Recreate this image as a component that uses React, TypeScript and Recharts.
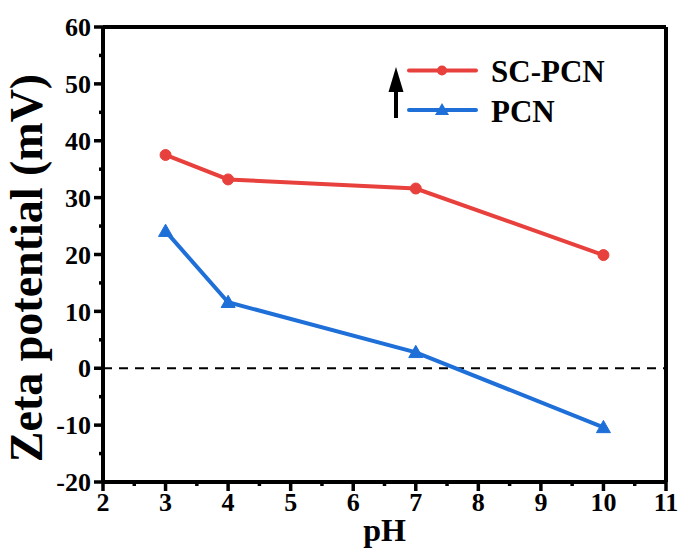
import React from "react";
import {
  LineChart,
  Line,
  XAxis,
  YAxis,
  ReferenceLine,
  Label,
} from "recharts";

const phValues = [3, 4, 7, 10];
const scPcnValues = [37.5, 33.2, 31.6, 19.9];
const pcnValues = [24.1, 11.6, 2.8, -10.4];
const xTicks = [2, 2.5, 3, 3.5, 4, 4.5, 5, 5.5, 6, 6.5, 7, 7.5, 8, 8.5, 9, 9.5, 10, 10.5, 11];
const yTicks = [-20, -15, -10, -5, 0, 5, 10, 15, 20, 25, 30, 35, 40, 45, 50, 55, 60];
const seriesNames = ["SC-PCN", "PCN"];

const data = phValues.map((ph, i) => ({
  ph,
  sc: scPcnValues[i],
  pcn: pcnValues[i],
}));

const RED = "#e8413d";
const BLUE = "#1f6fd8";
const FONT = "'Liberation Serif', 'Times New Roman', serif";

const Triangle = (props: any) => {
  const { cx, cy } = props;
  if (cx == null || cy == null) return null;
  const s = 7;
  return (
    <path
      d={`M${cx},${cy - s} L${cx + s},${cy + s * 0.75} L${cx - s},${cy + s * 0.75} Z`}
      fill={BLUE}
      stroke={BLUE}
    />
  );
};

const XTick = (props: any) => {
  const { x, y, payload } = props;
  const v = payload.value;
  const major = Number.isInteger(v);
  return (
    <g>
      <line x1={x} y1={y} x2={x} y2={y + (major ? 9 : 4)} stroke="#000" strokeWidth={3.5} />
      {major && (
        <text
          x={x}
          y={y + 11}
          dy="0.71em"
          textAnchor="middle"
          fontFamily={FONT}
          fontWeight="bold"
          fontSize={26}
          fill="#000"
        >
          {v}
        </text>
      )}
    </g>
  );
};

const YTick = (props: any) => {
  const { x, y, payload } = props;
  const v = payload.value;
  const major = v % 10 === 0;
  return (
    <g>
      <line x1={x} y1={y} x2={x - (major ? 9 : 4)} y2={y} stroke="#000" strokeWidth={3.5} />
      {major && (
        <text
          x={x - 12}
          y={y}
          dy="0.355em"
          textAnchor="end"
          fontFamily={FONT}
          fontWeight="bold"
          fontSize={26}
          fill="#000"
        >
          {v}
        </text>
      )}
    </g>
  );
};

const LegendOverlay = () => (
  <svg
    width={250}
    height={80}
    style={{ position: "absolute", left: 380, top: 50, overflow: "visible" }}
  >
    <line x1={16} y1={68} x2={16} y2={35} stroke="#000" strokeWidth={4} />
    <path d="M16,17 L23.5,42 L8.5,42 Z" fill="#000" />
    <line x1={29} y1={20.5} x2={96} y2={20.5} stroke={RED} strokeWidth={4} strokeLinecap="round" />
    <circle cx={62} cy={20.5} r={5} fill={RED} />
    <text x={111} y={32} fontFamily={FONT} fontWeight="bold" fontSize={31} fill="#000">
      {seriesNames[0]}
    </text>
    <line x1={29} y1={60} x2={96} y2={60} stroke={BLUE} strokeWidth={4} strokeLinecap="round" />
    <path d="M62,53 L69,65 L55,65 Z" fill={BLUE} />
    <text x={111} y={72} fontFamily={FONT} fontWeight="bold" fontSize={31} fill="#000">
      {seriesNames[1]}
    </text>
  </svg>
);

export default function App() {
  return (
    <div style={{ position: "absolute", left: 0, top: 0, width: 681, height: 549, background: "#fff" }}>
      <LineChart
        width={681}
        height={549}
        data={data}
        margin={{ top: 27, right: 15, bottom: 66, left: 102 }}
      >
        <XAxis
          dataKey="ph"
          type="number"
          domain={[2, 11]}
          ticks={xTicks}
          height={1}
          tickSize={0}
          tickMargin={0}
          axisLine={{ stroke: "#000", strokeWidth: 4 }}
          tickLine={false}
          tick={<XTick />}
          interval={0}
        >
          <Label
            content={() => (
              <text
                x={384.5}
                y={541}
                textAnchor="middle"
                fontFamily={FONT}
                fontWeight="bold"
                fontSize={32}
                fill="#000"
              >
                pH
              </text>
            )}
          />
        </XAxis>
        <YAxis
          type="number"
          domain={[-20, 60]}
          ticks={yTicks}
          width={1}
          tickSize={0}
          tickMargin={0}
          axisLine={{ stroke: "#000", strokeWidth: 4 }}
          tickLine={false}
          tick={<YTick />}
          interval={0}
        >
          <Label
            content={() => (
              <text
                x={42}
                y={268}
                transform="rotate(-90 42 268)"
                textAnchor="middle"
                fontFamily={FONT}
                fontWeight="bold"
                fontSize={46}
                fill="#000"
              >
                Zeta potential (mV)
              </text>
            )}
          />
        </YAxis>
        <ReferenceLine y={0} stroke="#000" strokeWidth={2} strokeDasharray="9 7" />
        <ReferenceLine y={60} stroke="#000" strokeWidth={4} />
        <ReferenceLine x={11} stroke="#000" strokeWidth={4} />
        <Line
          dataKey="sc"
          name={seriesNames[0]}
          stroke={RED}
          strokeWidth={4}
          dot={{ r: 5.5, fill: RED, stroke: RED, strokeWidth: 1 }}
          isAnimationActive={false}
        />
        <Line
          dataKey="pcn"
          name={seriesNames[1]}
          stroke={BLUE}
          strokeWidth={4}
          dot={<Triangle />}
          isAnimationActive={false}
        />
      </LineChart>
      <LegendOverlay />
    </div>
  );
}
